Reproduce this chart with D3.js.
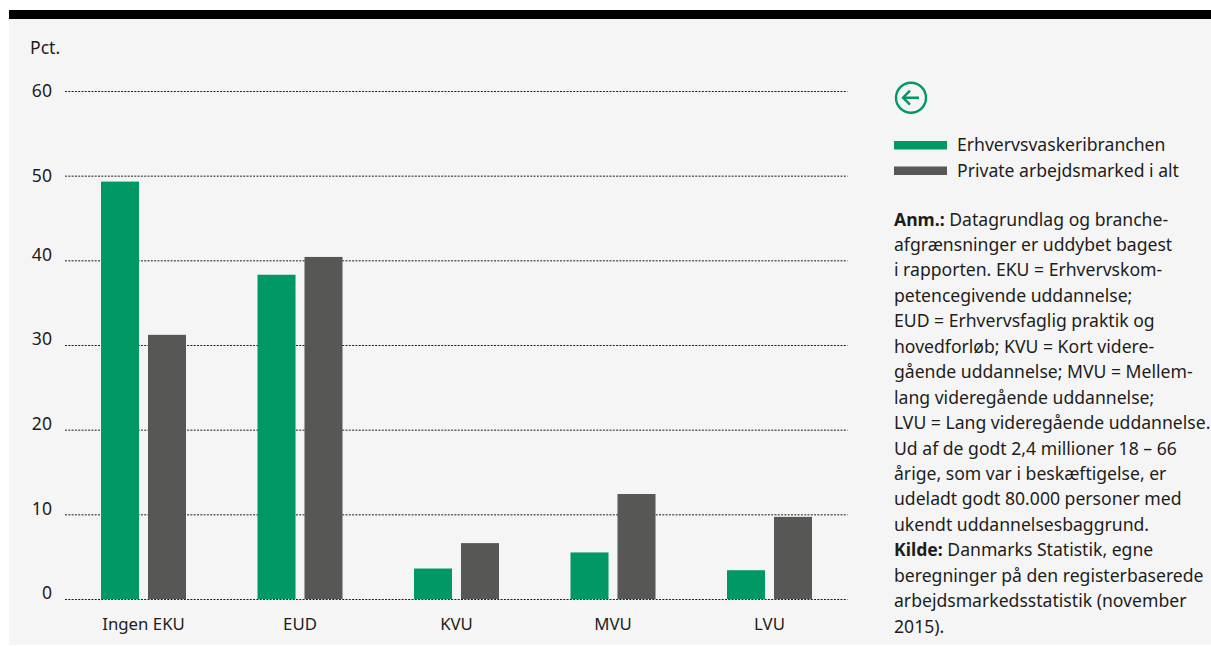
<!DOCTYPE html>
<html><head><meta charset="utf-8">
<script src="https://cdn.jsdelivr.net/npm/d3@7"></script>
<style>
html,body{margin:0;padding:0;background:#fff;}
svg{display:block;font-family:"Noto Sans",sans-serif;}
svg text{font-family:"Noto Sans",sans-serif;}
</style></head><body><div id="c"></div>
<script>
const categories=["Ingen EKU","EUD","KVU","MVU","LVU"];
const seriesNames=["Erhvervsvaskeribranchen","Private arbejdsmarked i alt"];
const laundry=[49.3,38.3,3.6,5.5,3.4];
const privateTotal=[31.2,40.4,6.6,12.4,9.7];
const yTicks=[0,10,20,30,40,50,60];
const colors=["#009966","#575756"];
const notes=[
 [["Anm.: ",1],["Datagrundlag og branche-",0]],
 [["afgrænsninger er uddybet bagest",0]],
 [["i rapporten. EKU = Erhvervskom-",0]],
 [["petencegivende uddannelse;",0]],
 [["EUD = Erhvervsfaglig praktik og",0]],
 [["hovedforløb; KVU = Kort videre-",0]],
 [["gående uddannelse; MVU = Mellem-",0]],
 [["lang videregående uddannelse;",0]],
 [["LVU = Lang videregående uddannelse.",0]],
 [["Ud af de godt 2,4 millioner 18 – 66",0]],
 [["årige, som var i beskæftigelse, er",0]],
 [["udeladt godt 80.000 personer med",0]],
 [["ukendt uddannelsesbaggrund.",0]],
 [["Kilde: ",1],["Danmarks Statistik, egne",0]],
 [["beregninger på den registerbaserede",0]],
 [["arbejdsmarkedsstatistik (november",0]],
 [["2015).",0]]
];
const W=1211,H=646,ink="#1d1d1b",fs=17.6;
const svg=d3.select("#c").append("svg").attr("width",W).attr("height",H);
svg.append("rect").attr("x",9).attr("y",10).attr("width",W-9).attr("height",635).attr("fill","#f5f5f5");
svg.append("rect").attr("x",9).attr("y",10).attr("width",W-9).attr("height",9).attr("fill","#000");

const y=d3.scaleLinear().domain([0,60]).range([599,91]);
const x=d3.scaleBand().domain(categories).range([65.25,847.75]);
const x1=d3.scaleBand().domain(d3.range(2)).range([x.bandwidth()/2-42.5,x.bandwidth()/2+42.5]).paddingInner(0.191);

const yAxis=d3.axisLeft(y).tickValues(yTicks).tickSize(-782.5).tickPadding(13);
const gy=svg.append("g").attr("transform","translate(65,0)").call(yAxis);
gy.select(".domain").remove();
gy.selectAll(".tick line").attr("stroke","#1d1d1b").attr("stroke-width",1).attr("stroke-dasharray","2 1.3");
gy.selectAll(".tick text").attr("x",-13).attr("y",d=>d>=50?-1:-6.5).attr("dy","0.36em").attr("font-size",fs).attr("fill",ink);

svg.append("text").attr("x",30).attr("y",54).attr("font-size",fs).attr("fill",ink).text("Pct.");

const gx=svg.append("g").attr("transform","translate(0,599)").call(d3.axisBottom(x).tickSize(0).tickPadding(19.5));
gx.select(".domain").remove();
gx.selectAll(".tick text").attr("font-size",16.8).attr("fill",ink);

[laundry,privateTotal].forEach((vals,s)=>{
  svg.append("g").selectAll("rect").data(vals).join("rect")
    .attr("x",(d,i)=>x(categories[i])+x1(s))
    .attr("width",x1.bandwidth())
    .attr("y",d=>y(d)).attr("height",d=>y(0)-y(d))
    .attr("fill",colors[s]);
});

// Back icon
const ic=svg.append("g").attr("transform","translate(911,97.7)").attr("fill","none").attr("stroke","#009966").attr("stroke-width",2.4);
ic.append("circle").attr("r",15);
ic.append("path").attr("d","M8,0H-8M-1,-7L-8,0L-1,7");

// Legend
const lg=svg.append("g").selectAll("g").data(seriesNames).join("g")
  .attr("transform",(d,i)=>`translate(894,${145+i*25.5})`);
lg.append("rect").attr("y",-4).attr("width",53).attr("height",8.5).attr("fill",(d,i)=>colors[i]);
lg.append("text").attr("x",63).attr("y",6).attr("font-size",fs).attr("fill",ink).text(d=>d);

// Notes
const t=svg.append("g").selectAll("text").data(notes).join("text")
  .attr("x",894).attr("y",(d,i)=>225.5+i*25.45).attr("font-size",fs).attr("fill",ink);
t.selectAll("tspan").data(d=>d).join("tspan").attr("font-weight",d=>d[1]?700:400).text(d=>d[0]);
</script></body></html>
